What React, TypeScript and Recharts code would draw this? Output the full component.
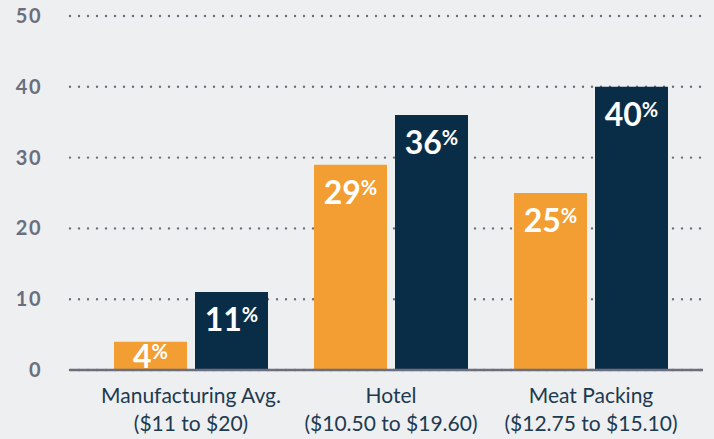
import React from "react";
import { BarChart, Bar, XAxis, YAxis, CartesianGrid, LabelList } from "recharts";

const categories = ["Manufacturing Avg.", "Hotel", "Meat Packing"];
const wageRanges = ["($11 to $20)", "($10.50 to $19.60)", "($12.75 to $15.10)"];
const seriesA = [4, 29, 25];
const seriesB = [11, 36, 40];
const yTicks = [0, 10, 20, 30, 40, 50];

const ORANGE = "#f29e33";
const NAVY = "#0a2d47";
const GREY = "#6b6e7d";
const FONT = "Lato, 'Open Sans', sans-serif";

const data = categories.map((name, i) => ({
  name,
  range: wageRanges[i],
  a: seriesA[i],
  b: seriesB[i],
}));

function CategoryTick(props: any) {
  const { x, y, payload } = props;
  const range = wageRanges[payload.index];
  return (
    <text x={x} y={y} textAnchor="middle" fill="#1d3a50" fontFamily={FONT} fontSize={21}>
      <tspan x={x} dy={33}>{payload.value}</tspan>
      <tspan x={x} dy={28}>{range}</tspan>
    </text>
  );
}

function PctLabel(props: any) {
  const { x, y, width, height, value } = props;
  const cx = x + width / 2;
  const base = Math.min(y + 39, y + height - 2);
  return (
    <text x={cx} y={base} textAnchor="middle" fill="#fff" fontFamily={FONT} fontWeight={700} fontSize={32}>
      {value}
      <tspan fontSize={20} dy={-9}>%</tspan>
    </text>
  );
}

function ValueTick(props: any) {
  const { x, y, payload } = props;
  return (
    <text x={x} y={y} dy={7} textAnchor="end" fill={GREY} fontFamily={FONT} fontWeight={700} fontSize={20} letterSpacing={1.5}>
      {payload.value}
    </text>
  );
}

export default function App() {
  return (
    <div style={{ position: "fixed", left: 0, top: 0, width: 714, height: 439, background: "#eeeff1" }}>
      <BarChart
        width={714}
        height={439}
        data={data}
        margin={{ top: 16, right: 11, bottom: 0, left: 0 }}
        barSize={73}
        barGap={8}
      >
        <CartesianGrid
          vertical={false}
          stroke={GREY}
          strokeWidth={2.4}
          strokeDasharray="0 9"
          strokeLinecap="round"
        />
        <XAxis
          dataKey="name"
          height={69}
          padding={{ left: 21, right: 12 }}
          tickLine={false}
          tickSize={0}
          tickMargin={0}
          axisLine={{ stroke: GREY, strokeWidth: 2.5 }}
          tick={<CategoryTick />}
          interval={0}
        />
        <YAxis
          width={70}
          domain={[0, 50]}
          ticks={yTicks}
          axisLine={false}
          tickLine={false}
          tickSize={0}
          tickMargin={28}
          tick={<ValueTick />}
        />
        <Bar dataKey="a" fill={ORANGE} isAnimationActive={false}>
          <LabelList dataKey="a" content={<PctLabel />} />
        </Bar>
        <Bar dataKey="b" fill={NAVY} isAnimationActive={false}>
          <LabelList dataKey="b" content={<PctLabel />} />
        </Bar>
      </BarChart>
    </div>
  );
}
